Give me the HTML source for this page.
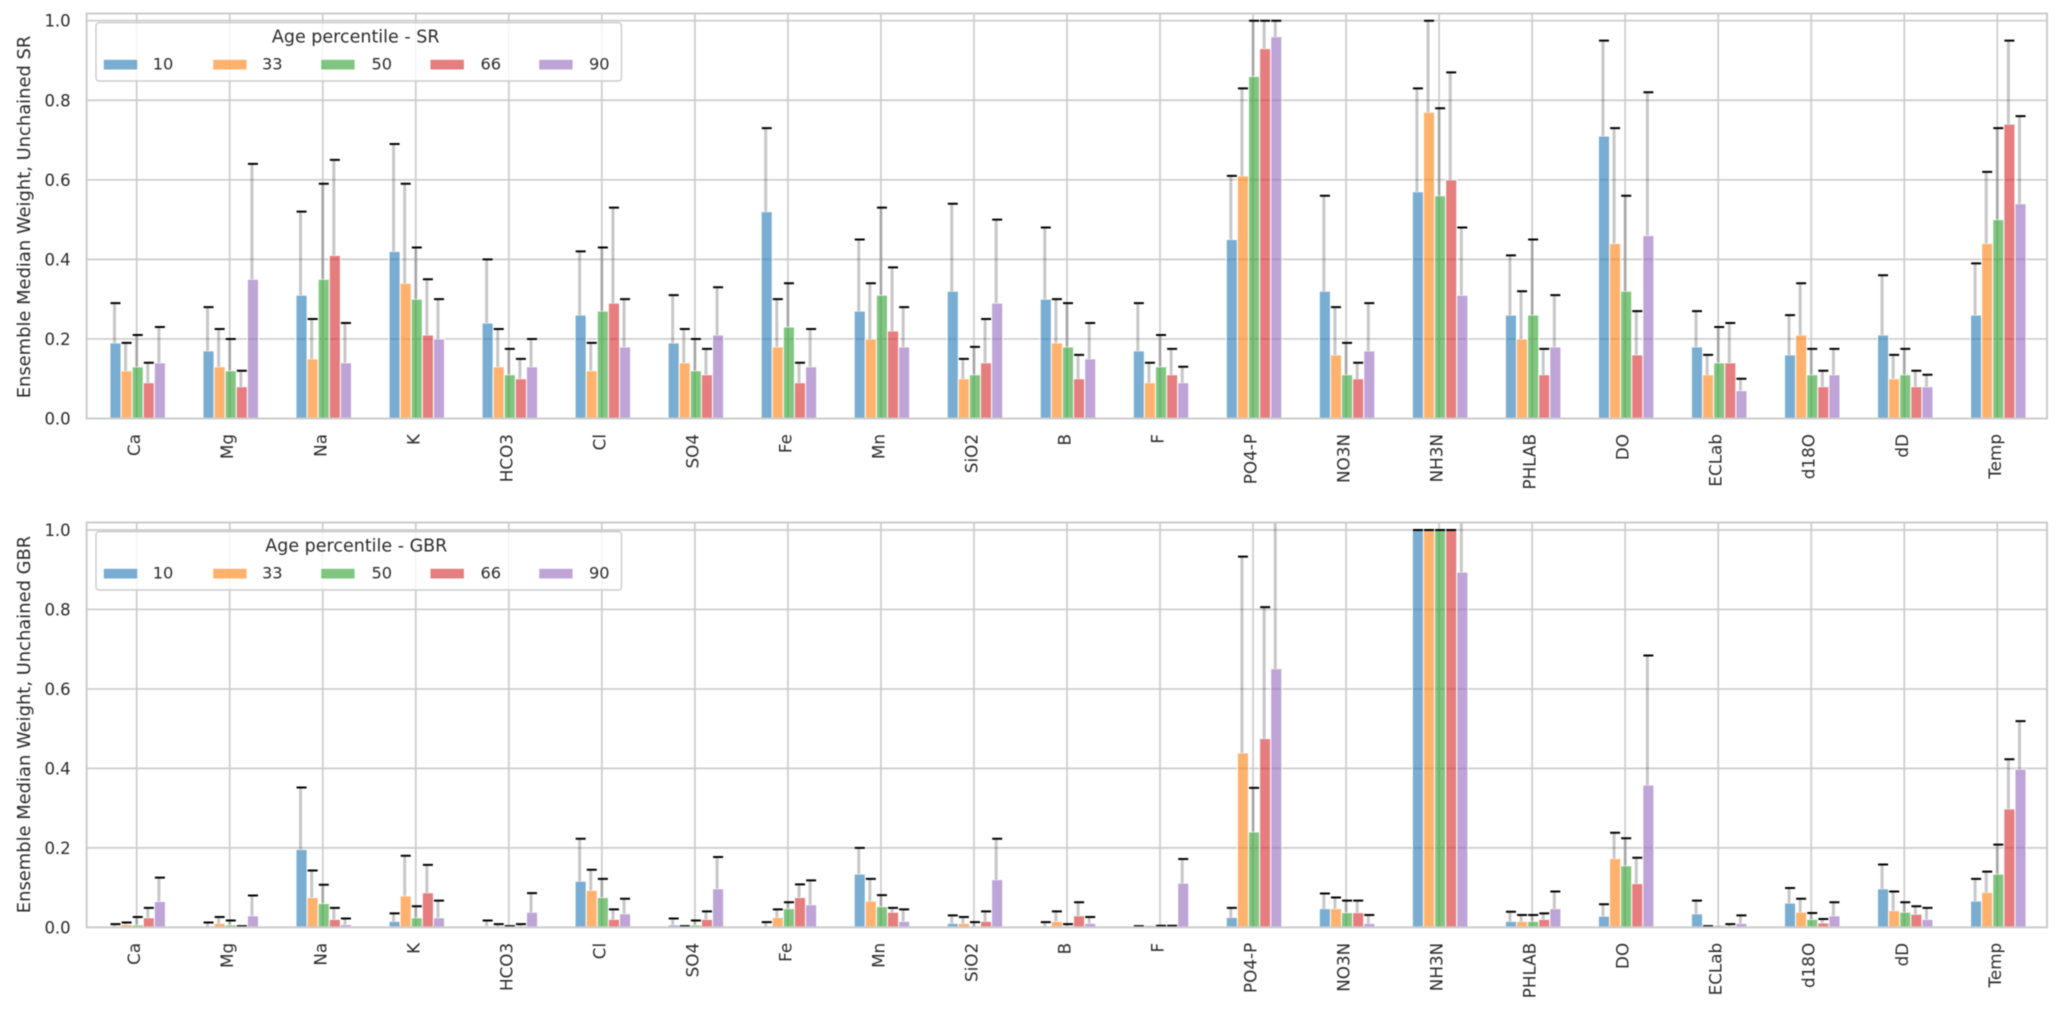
<!DOCTYPE html>
<html lang="en">
<head>
<meta charset="utf-8">
<title>Ensemble Median Weight by Age Percentile</title>
<style>
  html, body { margin: 0; padding: 0; background: #fff; width: 2067px; height: 1013px; overflow: hidden; }
  svg { display: block; filter: blur(0.65px); }
  text { font-family: "DejaVu Sans", "Liberation Sans", sans-serif; fill: #2b2b2b; }
  .tick { font-size: 16.5px; }
  .xl { font-size: 16.8px; }
  .axt { font-size: 17.9px; }
  .lgt { font-size: 17.5px; }
  .lgl { font-size: 16.2px; }
</style>
</head>
<body>
<svg id="fig" width="2067" height="1013" viewBox="0 0 2067 1013" xmlns="http://www.w3.org/2000/svg">
  <defs>
    <clipPath id="clip-sr"><rect x="86.6" y="13.5" width="1960.4" height="405"/></clipPath>
    <clipPath id="clip-gbr"><rect x="86.6" y="522.5" width="1960.4" height="405"/></clipPath>
  </defs>
  <rect x="0" y="0" width="2067" height="1013" fill="#fff"/>

  <g id="panel-sr"></g>
  <text class="axt" transform="translate(30,217) rotate(-90)" text-anchor="middle">Ensemble Median Weight, Unchained SR</text>
  <g>
    <rect x="96" y="22.7" width="525.5" height="58.3" rx="3" fill="#fff" fill-opacity="0.8" stroke="#ccc" stroke-width="1.4"/>
    <text class="lgt" x="355.7" y="42.7" text-anchor="middle">Age percentile - SR</text>
    <rect x="103.3" y="59.3" width="34.4" height="10.7" fill="#1f77b4" fill-opacity="0.6" stroke="#fff"/>
    <text class="lgl" x="152.7" y="69.7">10</text>
    <rect x="212.7" y="59.3" width="34.4" height="10.7" fill="#ff7f0e" fill-opacity="0.6" stroke="#fff"/>
    <text class="lgl" x="262" y="69.7">33</text>
    <rect x="320.7" y="59.3" width="34.4" height="10.7" fill="#2ca02c" fill-opacity="0.6" stroke="#fff"/>
    <text class="lgl" x="371.5" y="69.7">50</text>
    <rect x="430" y="59.3" width="34.4" height="10.7" fill="#d62728" fill-opacity="0.6" stroke="#fff"/>
    <text class="lgl" x="480.5" y="69.7">66</text>
    <rect x="538.7" y="59.3" width="34.4" height="10.7" fill="#9467bd" fill-opacity="0.6" stroke="#fff"/>
    <text class="lgl" x="589" y="69.7">90</text>
  </g>

  <g id="panel-gbr"></g>
  <text class="axt" transform="translate(30,724.5) rotate(-90)" text-anchor="middle">Ensemble Median Weight, Unchained GBR</text>
  <g transform="translate(0,509)">
    <rect x="96" y="22.7" width="525.5" height="58.3" rx="3" fill="#fff" fill-opacity="0.8" stroke="#ccc" stroke-width="1.4"/>
    <text class="lgt" x="356.3" y="42.7" text-anchor="middle">Age percentile - GBR</text>
    <rect x="103.3" y="59.3" width="34.4" height="10.7" fill="#1f77b4" fill-opacity="0.6" stroke="#fff"/>
    <text class="lgl" x="152.7" y="69.7">10</text>
    <rect x="212.7" y="59.3" width="34.4" height="10.7" fill="#ff7f0e" fill-opacity="0.6" stroke="#fff"/>
    <text class="lgl" x="262" y="69.7">33</text>
    <rect x="320.7" y="59.3" width="34.4" height="10.7" fill="#2ca02c" fill-opacity="0.6" stroke="#fff"/>
    <text class="lgl" x="371.5" y="69.7">50</text>
    <rect x="430" y="59.3" width="34.4" height="10.7" fill="#d62728" fill-opacity="0.6" stroke="#fff"/>
    <text class="lgl" x="480.5" y="69.7">66</text>
    <rect x="538.7" y="59.3" width="34.4" height="10.7" fill="#9467bd" fill-opacity="0.6" stroke="#fff"/>
    <text class="lgl" x="589" y="69.7">90</text>
  </g>
</svg>

<script>
const categories = ['Ca','Mg','Na','K','HCO3','Cl','SO4','Fe','Mn','SiO2','B','F','PO4-P','NO3N','NH3N','PHLAB','DO','ECLab','d18O','dD','Temp'];
const percentiles = ['10','33','50','66','90'];
const yTickValues = [0, 0.2, 0.4, 0.6, 0.8, 1.0];
const yTickLabels = ['0.0','0.2','0.4','0.6','0.8','1.0'];

// SR panel: median weight per percentile
const srMedian10 = [0.19,0.17,0.31,0.42,0.24,0.26,0.19,0.52,0.27,0.32,0.30,0.17,0.45,0.32,0.57,0.26,0.71,0.18,0.16,0.21,0.26];
const srMedian33 = [0.12,0.13,0.15,0.34,0.13,0.12,0.14,0.18,0.20,0.10,0.19,0.09,0.61,0.16,0.77,0.20,0.44,0.11,0.21,0.10,0.44];
const srMedian50 = [0.13,0.12,0.35,0.30,0.11,0.27,0.12,0.23,0.31,0.11,0.18,0.13,0.86,0.11,0.56,0.26,0.32,0.14,0.11,0.11,0.50];
const srMedian66 = [0.09,0.08,0.41,0.21,0.10,0.29,0.11,0.09,0.22,0.14,0.10,0.11,0.93,0.10,0.60,0.11,0.16,0.14,0.08,0.08,0.74];
const srMedian90 = [0.14,0.35,0.14,0.20,0.13,0.18,0.21,0.13,0.18,0.29,0.15,0.09,0.96,0.17,0.31,0.18,0.46,0.07,0.11,0.08,0.54];

// SR panel: upper error cap per percentile
const srUpper10 = [0.29,0.28,0.52,0.69,0.40,0.42,0.31,0.73,0.45,0.54,0.48,0.29,0.61,0.56,0.83,0.41,0.95,0.27,0.26,0.36,0.39];
const srUpper33 = [0.19,0.225,0.25,0.59,0.225,0.19,0.225,0.30,0.34,0.15,0.30,0.14,0.83,0.28,1.00,0.32,0.73,0.16,0.34,0.16,0.62];
const srUpper50 = [0.21,0.20,0.59,0.43,0.175,0.43,0.20,0.34,0.53,0.18,0.29,0.21,1.00,0.19,0.78,0.45,0.56,0.23,0.175,0.175,0.73];
const srUpper66 = [0.14,0.12,0.65,0.35,0.15,0.53,0.175,0.14,0.38,0.25,0.16,0.175,1.00,0.14,0.87,0.175,0.27,0.24,0.12,0.12,0.95];
const srUpper90 = [0.23,0.64,0.24,0.30,0.20,0.30,0.33,0.225,0.28,0.50,0.24,0.13,1.00,0.29,0.48,0.31,0.82,0.10,0.175,0.11,0.76];

// GBR panel: median weight per percentile
const gbrMedian10 = [0.002,0.002,0.196,0.015,0.003,0.116,0.006,0.002,0.134,0.010,0.002,0.001,0.025,0.047,1.00,0.015,0.028,0.034,0.061,0.097,0.066];
const gbrMedian33 = [0.007,0.010,0.075,0.079,0.002,0.093,0.003,0.025,0.066,0.010,0.015,0.000,0.439,0.047,1.00,0.015,0.173,0.001,0.038,0.042,0.088];
const gbrMedian50 = [0.006,0.006,0.060,0.024,0.001,0.075,0.006,0.047,0.052,0.002,0.003,0.001,0.240,0.037,1.00,0.015,0.155,0.000,0.020,0.038,0.134];
const gbrMedian66 = [0.024,0.002,0.020,0.087,0.002,0.020,0.020,0.075,0.038,0.015,0.029,0.001,0.475,0.037,1.00,0.020,0.110,0.002,0.011,0.033,0.298];
const gbrMedian90 = [0.065,0.029,0.007,0.024,0.038,0.034,0.097,0.057,0.015,0.120,0.010,0.111,0.651,0.010,0.894,0.047,0.358,0.010,0.029,0.020,0.398];

// GBR panel: upper error cap per percentile
const gbrUpper10 = [0.008,0.012,0.352,0.035,0.017,0.223,0.022,0.013,0.200,0.030,0.013,0.003,0.049,0.085,1.00,0.039,0.058,0.067,0.099,0.158,0.122];
const gbrUpper33 = [0.012,0.026,0.143,0.180,0.008,0.145,0.003,0.045,0.122,0.026,0.040,0.000,0.933,0.075,1.00,0.031,0.238,0.003,0.072,0.090,0.140];
const gbrUpper50 = [0.026,0.017,0.107,0.053,0.003,0.122,0.017,0.063,0.081,0.013,0.008,0.004,0.351,0.067,1.00,0.031,0.224,0.000,0.036,0.063,0.208];
const gbrUpper66 = [0.049,0.003,0.049,0.157,0.008,0.045,0.040,0.108,0.049,0.040,0.063,0.004,0.806,0.067,1.00,0.035,0.175,0.008,0.021,0.053,0.423];
const gbrUpper90 = [0.125,0.080,0.022,0.067,0.086,0.072,0.177,0.118,0.045,0.223,0.026,0.172,1.06,0.031,1.06,0.090,0.684,0.030,0.063,0.049,0.519];

const seriesColors = ['#1f77b4','#ff7f0e','#2ca02c','#d62728','#9467bd'];
const SVG_NS = 'http://www.w3.org/2000/svg';

function xScale(i) { return 136.7 + 93.03 * i; }
function barOffset(s) { return 1 + (s - 2) * 11.1; }
function makeYScale(y0, y1) { return function (v) { return y0 + (y1 - y0) * v; }; }

function mk(tag, attrs, parent, text) {
  const el = document.createElementNS(SVG_NS, tag);
  for (const k in attrs) el.setAttribute(k, attrs[k]);
  if (text !== undefined) el.textContent = text;
  parent.appendChild(el);
  return el;
}

function drawPanel(opts) {
  const root = document.getElementById(opts.id);
  const yScale = makeYScale(opts.y0, opts.y1);
  const L = 86.6, R = 2047;

  yTickValues.forEach(function (v, i) {
    const grid = mk('line', { x1: L, x2: R, y1: yScale(v), y2: yScale(v), stroke: '#ccc', 'stroke-width': 1.7 }, root);
    
    
    const label = mk('text', { class: 'tick', x: 70.7, y: yScale(v) + 6, 'text-anchor': 'end' }, root, yTickLabels[i]);
    
    
  });

  categories.forEach(function (c, i) {
    const grid = mk('line', { x1: xScale(i), x2: xScale(i), y1: opts.top, y2: opts.y0, stroke: '#ccc', 'stroke-width': 1.7 }, root);
    
    
    const label = mk('text', {
      class: 'xl', 'text-anchor': 'end',
      transform: 'translate(' + (xScale(i) + 3.5) + ',' + (opts.y0 + 15.5) + ') rotate(-90)'
    }, root, c);
    
    
  });

  const marks = mk('g', { 'clip-path': 'url(#' + opts.clip + ')' }, root);
  
  

  opts.medians.forEach(function (series, s) {
    series.forEach(function (v, i) {
      const bar = mk('rect', {
        x: xScale(i) + barOffset(s) - 5.55,
        y: yScale(v),
        width: 11.1,
        height: Math.max(0, opts.y0 - yScale(v)),
        fill: seriesColors[s],
        'fill-opacity': 0.6,
        stroke: '#fff',
        'stroke-width': 1
      }, marks);
      
      
    });
  });

  opts.uppers.forEach(function (series, s) {
    series.forEach(function (u, i) {
      const cx = xScale(i) + barOffset(s);
      const v = opts.medians[s][i];
      const err = mk('line', {
        x1: cx - 1, x2: cx - 1, y1: yScale(v), y2: yScale(u),
        stroke: '#000', 'stroke-opacity': 0.22, 'stroke-width': 3
      }, marks);
      
      
      const cap = mk('line', {
        x1: cx - 5, x2: cx + 5, y1: yScale(u), y2: yScale(u),
        stroke: '#000', 'stroke-width': 2
      }, marks);
      
      
    });
  });

  const frame = mk('rect', { x: L, y: opts.top, width: R - L, height: opts.y0 - opts.top, fill: 'none', stroke: '#ccc', 'stroke-width': 2 }, root);
  
  
}

drawPanel({
  id: 'panel-sr', key: 'sr', clip: 'clip-sr', top: 13.5, y0: 418.5, y1: 20.7,
  medians: [srMedian10, srMedian33, srMedian50, srMedian66, srMedian90],
  uppers: [srUpper10, srUpper33, srUpper50, srUpper66, srUpper90]
});
drawPanel({
  id: 'panel-gbr', key: 'gbr', clip: 'clip-gbr', top: 522.5, y0: 927.3, y1: 530,
  medians: [gbrMedian10, gbrMedian33, gbrMedian50, gbrMedian66, gbrMedian90],
  uppers: [gbrUpper10, gbrUpper33, gbrUpper50, gbrUpper66, gbrUpper90]
});
</script>
</body>
</html>
